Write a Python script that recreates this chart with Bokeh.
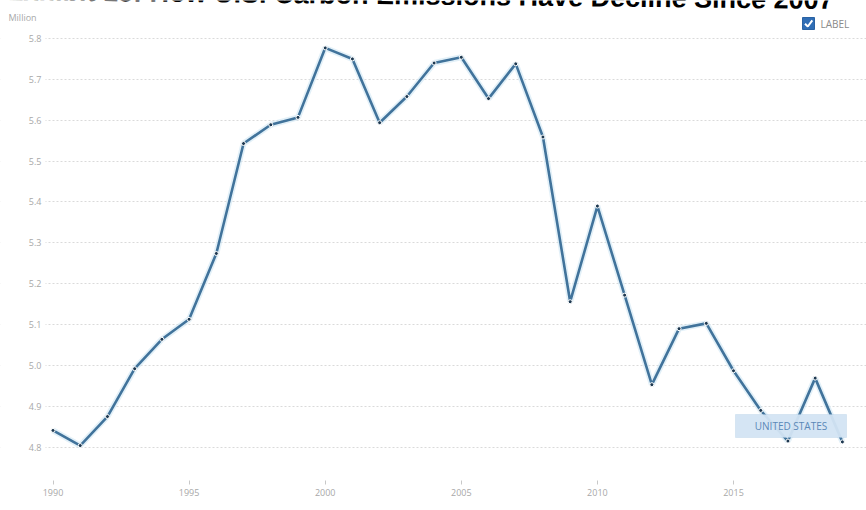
from bokeh.plotting import figure
from bokeh.models import FixedTicker, Range1d, Label, BoxAnnotation, NumeralTickFormatter
from bokeh.core.properties import value
from bokeh.embed import file_html
from bokeh.resources import INLINE

# ---- data ----
years = list(range(1990, 2020))
emissions = [4.841, 4.804, 4.875, 4.992, 5.064, 5.113, 5.274, 5.543, 5.589, 5.607,
             5.777, 5.750, 5.594, 5.658, 5.740, 5.754, 5.653, 5.738, 5.559, 5.156,
             5.390, 5.172, 4.953, 5.090, 5.103, 4.987, 4.890, 4.815, 4.969, 4.813]
y_ticks = [4.8, 4.9, 5.0, 5.1, 5.2, 5.3, 5.4, 5.5, 5.6, 5.7, 5.8]
x_ticks = [1990, 1995, 2000, 2005, 2010, 2015]
title_text = "Exhibit 13: How U.S. Carbon Emissions Have Decline Since 2007"
unit_text = "Million"
legend_text = "LABEL"
series_name = "UNITED STATES"

# ---- layout (frame spans the whole page except the x-axis strip) ----
W, H = 866, 510
BB = 30
FW, FH = W, H - BB
X0, X1 = 1988.071, 2019.886
Y0, Y1 = 4.7185, 5.893
label_color = "#a8a8a8"


def px2x(px):
    return X0 + px * (X1 - X0) / FW


def py2y(py):
    return Y1 - py * (Y1 - Y0) / FH


p = figure(width=W, height=H, output_backend="svg", toolbar_location=None,
           x_range=Range1d(X0, X1), y_range=Range1d(Y0, Y1),
           min_border_left=0, min_border_right=0, min_border_top=0, min_border_bottom=BB)
p.outline_line_color = None
p.background_fill_color = "white"
p.border_fill_color = "white"

# x axis
p.xaxis.ticker = FixedTicker(ticks=x_ticks)
p.xaxis.axis_line_color = None
p.xaxis.major_tick_in = 0
p.xaxis.major_tick_out = 4
p.xaxis.major_tick_line_color = "#c8c8c8"
p.xaxis.minor_tick_line_color = None
p.xaxis.major_label_standoff = 4
p.xaxis.major_label_text_font = "Open Sans"
p.xaxis.major_label_text_font_size = "9px"
p.xaxis.major_label_text_color = label_color

# y axis: labels pulled inside the page's left margin (right edge at x = 41)
p.yaxis.ticker = FixedTicker(ticks=y_ticks)
p.yaxis.formatter = NumeralTickFormatter(format="0.0")
p.yaxis.axis_line_color = None
p.yaxis.major_tick_line_color = None
p.yaxis.minor_tick_line_color = None
p.yaxis.major_tick_out = 0
p.yaxis.major_tick_in = 0
p.yaxis.major_label_standoff = -41
p.yaxis.major_label_text_font = "Open Sans"
p.yaxis.major_label_text_font_size = "9px"
p.yaxis.major_label_text_color = label_color

p.xgrid.grid_line_color = None
p.ygrid.ticker = FixedTicker(ticks=y_ticks)
p.ygrid.grid_line_color = "#dadada"
p.ygrid.grid_line_dash = "2 2"
p.ygrid.grid_line_width = 1

# white margin strip so that grid lines start right of the tick labels
p.quad(left=[X0], right=[px2x(45)], bottom=[Y0], top=[Y1],
       fill_color="white", line_color=None)

# series
p.line(years, emissions, line_color="#cfe6f4", line_width=6, line_alpha=0.6)
p.line(years, emissions, line_color="#41739b", line_width=2.6)
p.scatter(years, emissions, size=4, fill_color="#1d3850", line_color="white", line_width=1)

# title, cut by the top edge of the page as in the reference (slightly tilted)
p.text(x=[px2x(5)], y=[py2y(-9.5)], text=[title_text], text_font=value("Liberation Sans"),
       text_font_style="bold", text_font_size="27px", text_color="black",
       text_baseline="alphabetic", text_align="left", angle=-0.0109)
# unit
p.text(x=[px2x(8)], y=[py2y(17)], text=[unit_text], text_font=value("Open Sans"),
       text_font_size="9px", text_color=label_color,
       text_baseline="middle", text_align="left")
# legend checkbox
p.quad(left=[px2x(802)], right=[px2x(814)], top=[py2y(17)], bottom=[py2y(29)],
       fill_color="#2f6db5", line_color="#2a62a3", line_width=1)
p.line(x=[px2x(804.5), px2x(807.3), px2x(811.8)], y=[py2y(23.2), py2y(26), py2y(19.8)],
       line_color="white", line_width=2)
p.text(x=[px2x(820)], y=[py2y(23)], text=[legend_text], text_font=value("Open Sans"),
       text_font_size="10px", text_color="#8a8a8a",
       text_baseline="middle", text_align="left")

# series name tag
p.add_layout(BoxAnnotation(left=px2x(735), right=px2x(846), top=py2y(414), bottom=py2y(437),
                           fill_color="#d3e4f3", fill_alpha=0.95, line_color="#a9c6e2",
                           line_width=1))
p.add_layout(Label(x=px2x(790.5), y=py2y(425.5), text=series_name, text_font="Open Sans",
                   text_font_size="10px", text_color="#5a88b8",
                   text_baseline="middle", text_align="center"))

open("out.html", "w").write(file_html(p, INLINE))
